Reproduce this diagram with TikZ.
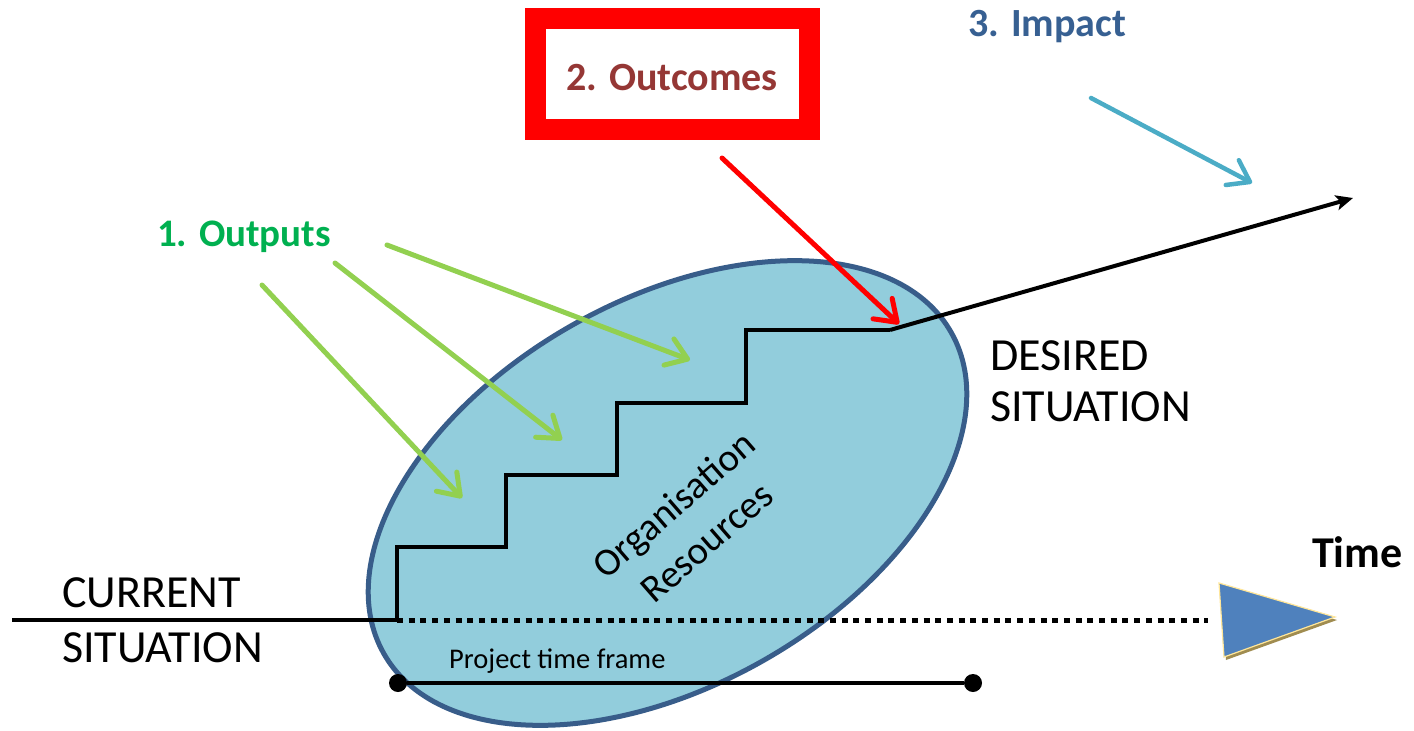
\documentclass[tikz,border=0pt]{standalone}
\usepackage{fontspec}
\setmainfont{Carlito}
\usetikzlibrary{arrows.meta}
\definecolor{resfill}{RGB}{146,205,220}
\definecolor{resedge}{RGB}{56,93,138}
\definecolor{outgreen}{RGB}{146,208,80}
\definecolor{labgreen}{RGB}{0,176,80}
\definecolor{outcred}{RGB}{149,55,53}
\definecolor{impblue}{RGB}{55,96,146}
\definecolor{impline}{RGB}{75,172,198}
\definecolor{timeblue}{RGB}{79,129,189}
\definecolor{timeedge}{RGB}{255,230,153}
\definecolor{timeshade}{RGB}{160,140,80}
\begin{document}
\begin{tikzpicture}[x=1pt,y=-1pt,
  track/.style={line width=4pt, line join=miter},
  barb/.style={line width=5pt, line cap=round,
    -{Straight Barb[length=20pt,width=28pt,line cap=round,line join=round]}},
  lbl/.style={inner sep=0pt, anchor=base west},
  headlbl/.style={lbl, font=\fontsize{39}{46}\selectfont\bfseries},
]
\useasboundingbox (0,0) rectangle (1414,731);

% organisation resources ellipse
\draw[fill=resfill, draw=resedge, line width=5pt, rotate around={29.5:(667.5,493)}]
  (667.5,493) ellipse [x radius=326pt, y radius=193pt];
\node[inner sep=0pt, rotate=41, align=center, font=\fontsize{39}{50}\selectfont]
  (org) at (690,523) {Organisation\\Resources};

% key points of the path
\coordinate (start) at (12,620);
\coordinate (kink) at (397,620);
\coordinate (top) at (890,330);
\coordinate (future) at (1353,198);
\coordinate (dotend) at (1208,620);

% current situation, staircase of outputs, and the path beyond
\draw[track] (start) -- (kink) -- ++(0,-73) -- ++(109,0) -- ++(0,-72) -- ++(111,0)
  -- ++(0,-72) -- ++(129,0) -- ++(0,-73) -- (top);
\draw[track, -{Stealth[length=17pt,width=15pt,inset=4pt]}] (top) -- (future);

% time axis
\draw[line width=5pt, dash pattern=on 6pt off 5.7pt] (kink) -- (dotend);
\fill[timeshade] (1222,586) -- (1337,620) -- (1226,660) -- cycle;
\filldraw[fill=timeblue, draw=timeedge, line width=1.2pt]
  (1219,583) -- (1335,617) -- (1224,657) -- cycle;
\node[lbl, font=\fontsize{44}{52}\selectfont\bfseries] (time) at (1312,567) {Time};

% project time frame
\node[circle, fill=black, inner sep=0pt, minimum size=18pt] (pstart) at (398,683) {};
\node[circle, fill=black, inner sep=0pt, minimum size=18pt] (pend) at (973,683) {};
\draw[line width=4pt] (pstart) -- (pend);
\node[lbl, font=\fontsize{28.5}{34}\selectfont] (ptf) at (449,668) {Project time frame};

% situation labels (anchored at the baseline of the last line)
\node[lbl, font=\fontsize{46}{55}\selectfont, align=left] (cur) at (62,662) {CURRENT\\SITUATION};
\node[lbl, font=\fontsize{46}{51}\selectfont, align=left] (des) at (990,421) {DESIRED\\SITUATION};

% outputs
\node[headlbl, text=labgreen] (outputs) at (157,246) {1. Outputs};
\coordinate (o1s) at (262,285);  \coordinate (o1e) at (462,498);
\coordinate (o2s) at (335,263);  \coordinate (o2e) at (562,440);
\coordinate (o3s) at (387,245);  \coordinate (o3e) at (690,360);
\draw[barb, outgreen] (o1s) -- (o1e);
\draw[barb, outgreen] (o2s) -- (o2e);
\draw[barb, outgreen] (o3s) -- (o3e);

% outcomes
\node[draw=red, line width=21pt, minimum width=274pt, minimum height=111pt,
  inner sep=0pt, text height=33pt, text depth=0pt,
  font=\fontsize{40}{48}\selectfont\bfseries, text=outcred]
  (outcomes) at (672,73.5) {2. Outcomes};
\coordinate (ocs) at (722,158);  \coordinate (oce) at (899,324);
\draw[barb, red] (ocs) -- (oce);

% impact
\node[headlbl, font=\fontsize{40}{48}\selectfont\bfseries, text=impblue] (impact) at (968,36) {3. Impact};
\coordinate (ims) at (1091,98);  \coordinate (ime) at (1252,183);
\draw[barb, impline, line width=4.5pt] (ims) -- (ime);
\end{tikzpicture}
\end{document}
